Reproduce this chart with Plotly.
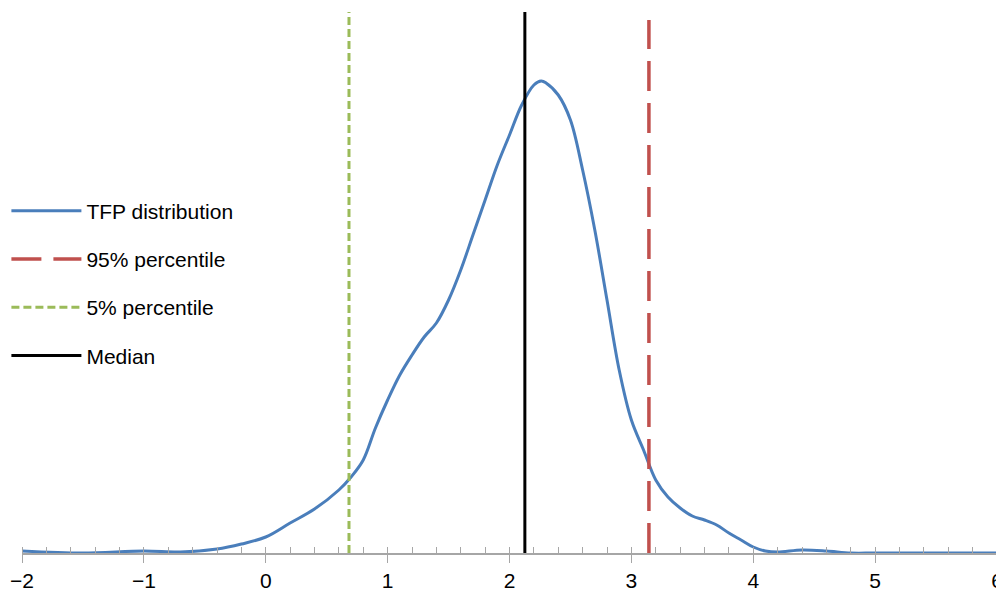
import plotly.graph_objects as go

x = [-2, -1.5, -1, -0.7, -0.4, -0.2, 0, 0.2, 0.4, 0.6, 0.7, 0.8, 0.9, 1.0, 1.1, 1.2, 1.3, 1.4, 1.5, 1.6,
     1.7, 1.8, 1.9, 2.0, 2.1, 2.2, 2.26, 2.3, 2.4, 2.5, 2.6, 2.7, 2.8, 2.9, 3.0, 3.1, 3.2, 3.3, 3.4,
     3.5, 3.6, 3.7, 3.8, 3.9, 4.0, 4.1, 4.2, 4.4, 4.6, 4.8, 5.0, 5.5, 6.0]
y = [2, 0, 2, 1, 4, 9, 16, 30, 44, 63, 76, 93, 125, 153, 178, 198, 216, 230, 253, 283,
     318, 353, 388, 418, 448, 468, 472, 470, 458, 433, 383, 323, 253, 183, 133, 103, 73, 56, 45,
     37, 33, 28, 20, 13, 6, 2, 1, 3, 2, 0, 0, 0, 0]
p95 = 3.144
p5 = 0.683
median = 2.126
line_top = 541
red_top = 533

fig = go.Figure()
fig.add_trace(go.Scatter(x=x, y=y, mode="lines", line=dict(color="#4a7ebb", width=3, shape="spline"),
                         name="TFP distribution", legendgroup="a"))
fig.add_trace(go.Scatter(x=[p95, p95], y=[0, red_top], mode="lines", line=dict(color="#c0504d", width=3.5, dash="30px,12px"),
                         name="95% percentile", legendgroup="b"))
fig.add_trace(go.Scatter(x=[p5, p5], y=[0, line_top], mode="lines", line=dict(color="#9bbb59", width=3, dash="8px,4px"),
                         name="5% percentile", legendgroup="c"))
fig.add_trace(go.Scatter(x=[median, median], y=[0, line_top], mode="lines", line=dict(color="black", width=3),
                         name="Median", legendgroup="d"))

fig.update_layout(
    width=996, height=592, plot_bgcolor="white", paper_bgcolor="white",
    margin=dict(l=14, r=7, t=4, b=47, autoexpand=False),
    font=dict(family="Liberation Sans, Open Sans", size=21, color="black"),
    showlegend=True,
    legend=dict(x=-0.016, y=0.670, xanchor="left", yanchor="top", tracegroupgap=18,
                itemwidth=70, bgcolor="rgba(0,0,0,0)", font=dict(size=21)),
    xaxis=dict(range=[-2, 6], dtick=1, showgrid=False, zeroline=False, showline=True, automargin=False,
               linecolor="#a6a6a6", linewidth=1.5, ticks="outside", ticklen=8, tickcolor="#a6a6a6",
               tickfont=dict(size=21),
               minor=dict(dtick=0.2, ticks="inside", ticklen=6, tickcolor="#a6a6a6")),
    yaxis=dict(range=[0, 541], visible=False),
)
fig.write_html("out.html")
